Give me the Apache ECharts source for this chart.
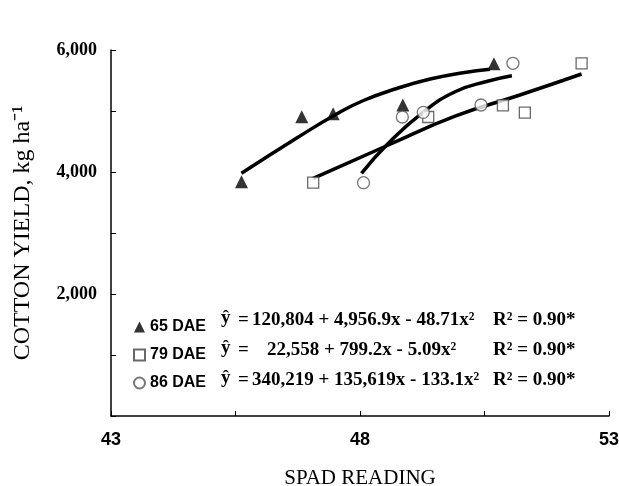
<!DOCTYPE html>
<html>
<head>
<meta charset="utf-8">
<script src="https://cdn.jsdelivr.net/npm/echarts@6/dist/echarts.min.js"></script>
<style>
  html, body { margin: 0; padding: 0; background: #fff; }
  #main { width: 619px; height: 486px; }
</style>
</head>
<body>
<div id="main"></div>
<script>
// observed points (SPAD reading, yield kg/ha)
const dae65X = [45.62, 46.83, 47.46, 48.86, 50.69];
const dae65Y = [3841, 4907, 4956, 5098, 5775];
const dae79X = [47.06, 49.37, 50.87, 51.31, 52.45];
const dae79Y = [3825, 4902, 5093, 4972, 5782];
const dae86X = [48.07, 48.85, 49.27, 50.43, 51.07];
const dae86Y = [3825, 4902, 4978, 5098, 5782];

// fitted curves
const fit65X = [45.62, 46.73, 47.53, 48.07, 48.74, 49.41, 50.07, 50.61];
const fit65Y = [3979, 4557, 4951, 5172, 5369, 5525, 5628, 5684];
const fit79X = [47.06, 48.57, 49.91, 51.18, 52.45];
const fit79Y = [3897, 4443, 4915, 5254, 5607];
const fit86X = [48.03, 48.57, 49.24, 49.91, 50.58, 51.05];
const fit86Y = [3979, 4470, 4962, 5316, 5492, 5579];

const xTicks = [43, 48, 53];
const yTicks = [2000, 4000, 6000];

const equations = [
  { lead: '120,804 + 4,956.9x - 48.71x\u00b2', indent: 0 },
  { lead: '22,558 + 799.2x - 5.09x\u00b2', indent: 15 },
  { lead: '340,219 + 135,619x - 133.1x\u00b2', indent: 0 }
];
const r2 = ['R\u00b2 = 0.90*', 'R\u00b2 = 0.90*', 'R\u00b2 = 0.90*'];

const zip = (xs, ys) => xs.map((x, i) => [x, ys[i]]);

const chart = echarts.init(document.getElementById('main'));

const serif = '"Liberation Serif", "Times New Roman", serif';
const sans = '"Liberation Sans", Arial, sans-serif';

const rowY = [322, 352, 382];
let graphics = [];
equations.forEach((eq, i) => {
  graphics.push({
    type: 'text', left: 221, top: rowY[i] - 13,
    style: { text: '\u0177', font: 'bold 19px ' + serif, fill: '#000' }
  });
  graphics.push({
    type: 'text', left: 238, top: rowY[i] - 11,
    style: { text: '=', font: 'bold 19px ' + serif, fill: '#000' }
  });
  graphics.push({
    type: 'text', left: 252 + eq.indent, top: rowY[i] - 11,
    style: { text: eq.lead, font: 'bold 19px ' + serif, fill: '#000' }
  });
  graphics.push({
    type: 'text', left: 493, top: rowY[i] - 11,
    style: { text: r2[i], font: 'bold 19px ' + serif, fill: '#000' }
  });
});

const fitLine = (name, xs, ys) => ({
  name: name,
  type: 'line',
  smooth: 0.5,
  symbol: 'none',
  silent: true,
  lineStyle: { color: '#000', width: 3.5 },
  data: zip(xs, ys),
  z: 3
});

chart.setOption({
  animation: false,
  grid: { left: 111, right: 10, top: 50, bottom: 70, outerBoundsMode: 'none', containLabel: false },
  legend: {
    data: ['65 DAE', '79 DAE', '86 DAE'],
    orient: 'vertical',
    left: 128,
    top: 314,
    itemWidth: 11,
    itemHeight: 11,
    itemGap: 12,
    textStyle: { fontFamily: sans, fontWeight: 'bold', fontSize: 16, color: '#000' }
  },
  xAxis: {
    type: 'value',
    min: 43,
    max: 53,
    interval: 2.5,
    name: 'SPAD READING',
    nameLocation: 'middle',
    nameGap: 52,
    nameTextStyle: { fontFamily: serif, fontSize: 21, color: '#000' },
    axisLine: { lineStyle: { color: '#000', width: 1.5 } },
    axisTick: { inside: true, length: 5, lineStyle: { color: '#000' } },
    axisLabel: {
      margin: 15,
      fontFamily: sans, fontWeight: 'bold', fontSize: 18, color: '#000',
      formatter: v => (xTicks.includes(v) ? String(v) : '')
    },
    splitLine: { show: false }
  },
  yAxis: {
    type: 'value',
    min: 0,
    max: 6000,
    interval: 1000,
    name: 'COTTON YIELD, kg ha\u207b\u00b9',
    nameLocation: 'middle',
    nameGap: 76,
    nameTextStyle: { fontFamily: serif, fontSize: 24, color: '#000' },
    axisLine: { show: true, lineStyle: { color: '#000', width: 1.5 } },
    axisTick: { show: true, inside: true, length: 5, lineStyle: { color: '#000' } },
    axisLabel: {
      margin: 14,
      fontFamily: serif, fontWeight: 'bold', fontSize: 18, color: '#000',
      formatter: v => (yTicks.includes(v) ? v.toLocaleString('en-US') : '')
    },
    splitLine: { show: false }
  },
  series: [
    {
      name: '65 DAE', type: 'scatter', symbol: 'triangle', symbolSize: 13,
      itemStyle: { color: '#000' },
      data: zip(dae65X, dae65Y), z: 4
    },
    {
      name: '79 DAE', type: 'scatter', symbol: 'rect', symbolSize: 11,
      itemStyle: { color: '#fff', borderColor: '#444', borderWidth: 1.3 },
      data: zip(dae79X, dae79Y), z: 4
    },
    {
      name: '86 DAE', type: 'scatter', symbol: 'circle', symbolSize: 12,
      itemStyle: { color: '#fff', borderColor: '#555', borderWidth: 1.3 },
      data: zip(dae86X, dae86Y), z: 4
    },
    fitLine('fit 65', fit65X, fit65Y),
    fitLine('fit 79', fit79X, fit79Y),
    fitLine('fit 86', fit86X, fit86Y)
  ],
  graphic: graphics
});
</script>
</body>
</html>
